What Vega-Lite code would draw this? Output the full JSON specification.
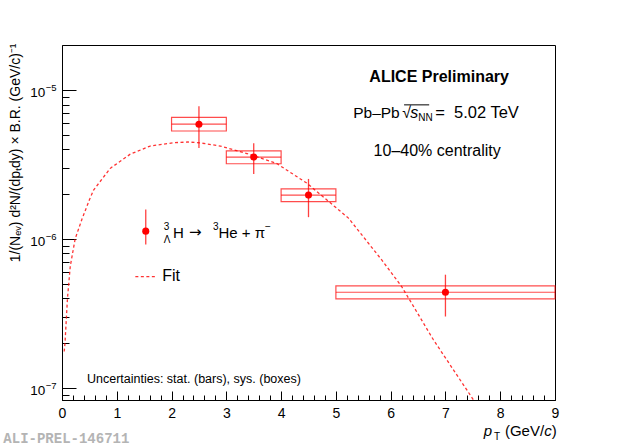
{
  "$schema": "https://vega.github.io/schema/vega-lite/v6.json",
  "width": 493,
  "height": 355,
  "autosize": "none",
  "padding": {"left": 62, "top": 45, "right": 65, "bottom": 47},
  "background": "white",
  "datasets": {
    "points": [
      {"pt": 2.5, "lo": 2, "hi": 3, "y": 5.9e-6, "stat_lo": 4.08e-6, "stat_hi": 7.8e-6, "sys_lo": 5.31e-6, "sys_hi": 6.56e-6},
      {"pt": 3.5, "lo": 3, "hi": 4, "y": 3.55e-6, "stat_lo": 2.73e-6, "stat_hi": 4.39e-6, "sys_lo": 3.2e-6, "sys_hi": 3.9e-6},
      {"pt": 4.5, "lo": 4, "hi": 5, "y": 1.97e-6, "stat_lo": 1.4e-6, "stat_hi": 2.53e-6, "sys_lo": 1.78e-6, "sys_hi": 2.17e-6},
      {"pt": 7, "lo": 5, "hi": 9, "y": 4.38e-7, "stat_lo": 3.01e-7, "stat_hi": 5.75e-7, "sys_lo": 3.95e-7, "sys_hi": 4.84e-7}
    ],
    "fit": [
      {"pt": 0.04, "v": 1.75e-7},
      {"pt": 0.055, "v": 2.0e-7},
      {"pt": 0.1, "v": 4.0e-7},
      {"pt": 0.151, "v": 6.55e-7},
      {"pt": 0.24, "v": 1.0e-6},
      {"pt": 0.365, "v": 1.36e-6},
      {"pt": 0.5, "v": 1.83e-6},
      {"pt": 0.577, "v": 2.13e-6},
      {"pt": 0.88, "v": 2.98e-6},
      {"pt": 1.246, "v": 3.71e-6},
      {"pt": 1.61, "v": 4.21e-6},
      {"pt": 2.04, "v": 4.43e-6},
      {"pt": 2.3, "v": 4.48e-6},
      {"pt": 2.52, "v": 4.42e-6},
      {"pt": 2.89, "v": 4.21e-6},
      {"pt": 3.375, "v": 3.75e-6},
      {"pt": 3.92, "v": 3.21e-6},
      {"pt": 4.47, "v": 2.37e-6},
      {"pt": 5.23, "v": 1.38e-6},
      {"pt": 5.84, "v": 7.2e-7},
      {"pt": 6.2, "v": 4.79e-7},
      {"pt": 6.78, "v": 2.1e-7},
      {"pt": 7.51, "v": 8.3e-8},
      {"pt": 7.7, "v": 6.0e-8}
    ],
    "decades": [
      {"v": 1e-7, "exp": "−7"},
      {"v": 1e-6, "exp": "−6"},
      {"v": 1e-5, "exp": "−5"}
    ]
  },
  "resolve": {"axis": {"x": "independent", "y": "independent"}},
  "layer": [
    {
      "data": {"name": "points"},
      "mark": {"type": "rect", "filled": false, "stroke": "#ff0000", "strokeWidth": 1.2, "strokeOpacity": 0.7},
      "encoding": {
        "x": {
          "field": "lo", "type": "quantitative",
          "scale": {"domain": [0, 9], "nice": false, "zero": false},
          "axis": {"orient": "bottom", "values": [0, 1, 2, 3, 4, 5, 6, 7, 8, 9], "tickSize": -9, "labelPadding": 15, "labelFontSize": 14, "title": null, "labelFlush": false}
        },
        "x2": {"field": "hi"},
        "y": {
          "field": "sys_lo", "type": "quantitative",
          "scale": {"type": "log", "domain": [8.27e-8, 2.01e-5], "nice": false},
          "axis": {
            "orient": "left", "values": [1e-7, 1e-6, 1e-5], "tickSize": -14, "labels": false,
            "title": "1/(Nₑᵥ) d²N/(dpₜdy) × B.R. (GeV/c)⁻¹",
            "titleFontSize": 14, "titleFontWeight": "normal", "titleX": -43, "titleY": -2, "titleAlign": "right", "titleBaseline": "alphabetic"
          }
        },
        "y2": {"field": "sys_hi"}
      }
    },
    {
      "data": {"name": "points"},
      "mark": {"type": "rule", "stroke": "#ff0000", "strokeWidth": 1.2, "strokeOpacity": 0.7},
      "encoding": {
        "x": {
          "field": "lo", "type": "quantitative",
          "axis": {"orient": "bottom", "values": [0.2, 0.4, 0.6, 0.8, 1.2, 1.4, 1.6, 1.8, 2.2, 2.4, 2.6, 2.8, 3.2, 3.4, 3.6, 3.8, 4.2, 4.4, 4.6, 4.8, 5.2, 5.4, 5.6, 5.8, 6.2, 6.4, 6.6, 6.8, 7.2, 7.4, 7.6, 7.8, 8.2, 8.4, 8.6, 8.8], "tickSize": -5, "labels": false, "domain": false, "title": null}
        },
        "x2": {"field": "hi"},
        "y": {
          "field": "y", "type": "quantitative",
          "axis": {"orient": "left", "values": [9e-8, 2e-7, 3e-7, 4e-7, 5e-7, 6e-7, 7e-7, 8e-7, 9e-7, 2e-6, 3e-6, 4e-6, 5e-6, 6e-6, 7e-6, 8e-6, 9e-6], "tickSize": -7, "labels": false, "domain": false, "title": null}
        }
      }
    },
    {
      "data": {"name": "points"},
      "mark": {"type": "rule", "stroke": "#ff0000", "strokeWidth": 1.3, "strokeOpacity": 0.75},
      "encoding": {
        "x": {"field": "pt", "type": "quantitative", "axis": null},
        "y": {"field": "stat_lo", "type": "quantitative", "axis": null},
        "y2": {"field": "stat_hi"}
      }
    },
    {
      "data": {"name": "points"},
      "mark": {"type": "circle", "color": "#ff0000", "opacity": 1, "size": 50},
      "encoding": {
        "x": {"field": "pt", "type": "quantitative", "axis": null},
        "y": {"field": "y", "type": "quantitative", "axis": null}
      }
    },
    {
      "data": {"name": "fit"},
      "mark": {"type": "line", "stroke": "#ff0000", "strokeWidth": 1.3, "strokeOpacity": 0.8, "strokeDash": [3, 2.5], "clip": true},
      "encoding": {
        "x": {"field": "pt", "type": "quantitative", "axis": null},
        "y": {"field": "v", "type": "quantitative", "axis": null}
      }
    },
    {
      "data": {"name": "decades"},
      "mark": {"type": "text", "text": "10", "font": "Liberation Sans", "fontSize": 13.5, "align": "right", "baseline": "alphabetic", "dy": 7},
      "encoding": {"x": {"datum": -0.305, "axis": null}, "y": {"field": "v", "type": "quantitative", "axis": null}}
    },
    {
      "data": {"name": "decades"},
      "mark": {"type": "text", "font": "Liberation Sans", "fontSize": 9.5, "align": "left", "baseline": "alphabetic", "dx": 0.5, "dy": 1},
      "encoding": {"x": {"datum": -0.305, "axis": null}, "y": {"field": "v", "type": "quantitative", "axis": null}, "text": {"field": "exp"}}
    },
    {
      "data": {"values": [{}]},
      "mark": {"type": "text", "text": "ALICE Preliminary", "font": "Liberation Sans", "fontSize": 16, "fontWeight": "bold", "align": "center", "baseline": "alphabetic"},
      "encoding": {"x": {"datum": 6.885, "axis": null}, "y": {"datum": 1.137e-5, "axis": null}}
    },
    {
      "data": {"values": [{}]},
      "mark": {"type": "text", "text": "10–40% centrality", "font": "Liberation Sans", "fontSize": 16, "align": "center", "baseline": "alphabetic"},
      "encoding": {"x": {"datum": 6.849, "axis": null}, "y": {"datum": 3.62e-6, "axis": null}}
    },
    {
      "data": {"values": [{}]},
      "mark": {"type": "text", "text": "Pb–Pb", "font": "Liberation Sans", "fontSize": 15.5, "align": "left", "baseline": "alphabetic"},
      "encoding": {"x": {"datum": 5.316, "axis": null}, "y": {"datum": 6.52e-6, "axis": null}}
    },
    {
      "data": {"values": [{}]},
      "mark": {"type": "text", "text": "√", "font": "Liberation Sans", "fontSize": 16, "align": "left", "baseline": "alphabetic", "dx": 49},
      "encoding": {"x": {"datum": 5.316, "axis": null}, "y": {"datum": 6.52e-6, "axis": null}}
    },
    {
      "data": {"values": [{}]},
      "mark": {"type": "text", "text": "s", "font": "Liberation Sans", "fontSize": 16, "fontStyle": "italic", "align": "left", "baseline": "alphabetic", "dx": 57},
      "encoding": {"x": {"datum": 5.316, "axis": null}, "y": {"datum": 6.52e-6, "axis": null}}
    },
    {
      "data": {"values": [{}]},
      "mark": {"type": "text", "text": "NN", "font": "Liberation Sans", "fontSize": 10, "align": "left", "baseline": "alphabetic", "dx": 65, "dy": 3},
      "encoding": {"x": {"datum": 5.316, "axis": null}, "y": {"datum": 6.52e-6, "axis": null}}
    },
    {
      "data": {"values": [{}]},
      "mark": {"type": "text", "text": "= \u00a05.02 TeV", "font": "Liberation Sans", "fontSize": 16.5, "align": "left", "baseline": "alphabetic", "dx": 82},
      "encoding": {"x": {"datum": 5.316, "axis": null}, "y": {"datum": 6.52e-6, "axis": null}}
    },
    {
      "data": {"values": [{}]},
      "mark": {"type": "rule", "stroke": "#000", "strokeWidth": 1},
      "encoding": {"x": {"datum": 6.245, "axis": null}, "x2": {"datum": 6.703}, "y": {"datum": 7.96e-6, "axis": null}}
    },
    {
      "data": {"values": [{}]},
      "mark": {"type": "rule", "stroke": "#ff0000", "strokeWidth": 1.3, "strokeOpacity": 0.75},
      "encoding": {"x": {"datum": 1.529, "axis": null}, "y": {"datum": 9.16e-7, "axis": null}, "y2": {"datum": 1.574e-6}}
    },
    {
      "data": {"values": [{}]},
      "mark": {"type": "circle", "color": "#ff0000", "opacity": 1, "size": 50},
      "encoding": {"x": {"datum": 1.529, "axis": null}, "y": {"datum": 1.128e-6, "axis": null}}
    },
    {
      "data": {"values": [{}]},
      "mark": {"type": "text", "text": "3", "font": "Liberation Sans", "fontSize": 10, "align": "left", "baseline": "alphabetic", "dy": -8},
      "encoding": {"x": {"datum": 1.857, "axis": null}, "y": {"datum": 1.017e-6, "axis": null}}
    },
    {
      "data": {"values": [{}]},
      "mark": {"type": "text", "text": "Λ", "font": "Liberation Sans", "fontSize": 10, "align": "left", "baseline": "alphabetic", "dy": 5},
      "encoding": {"x": {"datum": 1.857, "axis": null}, "y": {"datum": 1.017e-6, "axis": null}}
    },
    {
      "data": {"values": [{}]},
      "mark": {"type": "text", "text": "H", "font": "Liberation Sans", "fontSize": 15, "align": "left", "baseline": "alphabetic"},
      "encoding": {"x": {"datum": 2.026, "axis": null}, "y": {"datum": 1.017e-6, "axis": null}}
    },
    {
      "data": {"values": [{}]},
      "mark": {"type": "text", "text": "→", "font": "DejaVu Sans", "fontSize": 15, "align": "left", "baseline": "alphabetic", "dx": 16, "dy": -1},
      "encoding": {"x": {"datum": 2.026, "axis": null}, "y": {"datum": 1.017e-6, "axis": null}}
    },
    {
      "data": {"values": [{}]},
      "mark": {"type": "text", "text": "3", "font": "Liberation Sans", "fontSize": 10, "align": "left", "baseline": "alphabetic", "dx": 40, "dy": -8},
      "encoding": {"x": {"datum": 2.026, "axis": null}, "y": {"datum": 1.017e-6, "axis": null}}
    },
    {
      "data": {"values": [{}]},
      "mark": {"type": "text", "text": "He + π", "font": "Liberation Sans", "fontSize": 15, "align": "left", "baseline": "alphabetic", "dx": 45.5},
      "encoding": {"x": {"datum": 2.026, "axis": null}, "y": {"datum": 1.017e-6, "axis": null}}
    },
    {
      "data": {"values": [{}]},
      "mark": {"type": "text", "text": "−", "font": "Liberation Sans", "fontSize": 10, "align": "left", "baseline": "alphabetic", "dx": 92, "dy": -8},
      "encoding": {"x": {"datum": 2.026, "axis": null}, "y": {"datum": 1.017e-6, "axis": null}}
    },
    {
      "data": {"values": [{}]},
      "mark": {"type": "rule", "stroke": "#ff0000", "strokeWidth": 1.3, "strokeOpacity": 0.8, "strokeDash": [3, 2.5]},
      "encoding": {"x": {"datum": 1.339, "axis": null}, "x2": {"datum": 1.739}, "y": {"datum": 5.58e-7, "axis": null}}
    },
    {
      "data": {"values": [{}]},
      "mark": {"type": "text", "text": "Fit", "font": "Liberation Sans", "fontSize": 16, "align": "left", "baseline": "alphabetic"},
      "encoding": {"x": {"datum": 1.83, "axis": null}, "y": {"datum": 5.19e-7, "axis": null}}
    },
    {
      "data": {"values": [{}]},
      "mark": {"type": "text", "text": "Uncertainties: stat. (bars), sys. (boxes)", "font": "Liberation Sans", "fontSize": 12.5, "align": "left", "baseline": "alphabetic"},
      "encoding": {"x": {"datum": 0.456, "axis": null}, "y": {"datum": 1.08e-7, "axis": null}}
    },
    {
      "data": {"values": [{}]},
      "mark": {"type": "text", "text": ")", "font": "Liberation Sans", "fontSize": 15, "align": "right", "baseline": "alphabetic"},
      "encoding": {"x": {"datum": 9.03, "axis": null}, "y": {"datum": 4.71e-8, "axis": null}}
    },
    {
      "data": {"values": [{}]},
      "mark": {"type": "text", "text": "c", "font": "Liberation Sans", "fontSize": 15, "fontStyle": "italic", "align": "right", "baseline": "alphabetic", "dx": -5},
      "encoding": {"x": {"datum": 9.03, "axis": null}, "y": {"datum": 4.71e-8, "axis": null}}
    },
    {
      "data": {"values": [{}]},
      "mark": {"type": "text", "text": "(GeV/", "font": "Liberation Sans", "fontSize": 15, "align": "right", "baseline": "alphabetic", "dx": -12.5},
      "encoding": {"x": {"datum": 9.03, "axis": null}, "y": {"datum": 4.71e-8, "axis": null}}
    },
    {
      "data": {"values": [{}]},
      "mark": {"type": "text", "text": "T", "font": "Liberation Sans", "fontSize": 10, "align": "left", "baseline": "alphabetic", "dy": 4},
      "encoding": {"x": {"datum": 7.885, "axis": null}, "y": {"datum": 4.71e-8, "axis": null}}
    },
    {
      "data": {"values": [{}]},
      "mark": {"type": "text", "text": "p", "font": "Liberation Sans", "fontSize": 15, "fontStyle": "italic", "align": "left", "baseline": "alphabetic"},
      "encoding": {"x": {"datum": 7.7, "axis": null}, "y": {"datum": 4.71e-8, "axis": null}}
    },
    {
      "data": {"values": [{}]},
      "mark": {"type": "text", "text": "ALI-PREL-146711", "font": "Liberation Mono", "fontSize": 14, "fontWeight": "bold", "color": "#b4b4b4", "align": "left", "baseline": "alphabetic"},
      "encoding": {"x": {"datum": -1.071, "axis": null}, "y": {"datum": 4.23e-8, "axis": null}}
    }
  ],
  "config": {
    "view": {"stroke": "#000", "strokeWidth": 1},
    "axis": {
      "grid": false,
      "domainColor": "#000",
      "domainWidth": 1,
      "tickColor": "#000",
      "tickWidth": 1,
      "labelColor": "#000",
      "titleColor": "#000",
      "labelFont": "Liberation Sans",
      "titleFont": "Liberation Sans"
    },
    "text": {"color": "#000"}
  }
}
